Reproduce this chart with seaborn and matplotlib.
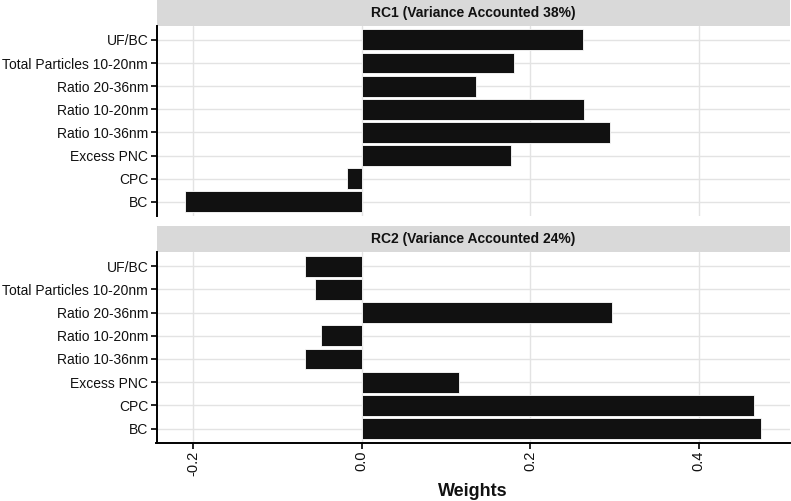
import matplotlib
matplotlib.use("Agg")
import matplotlib.pyplot as plt
import seaborn as sns
import pandas as pd

variables = ["UF/BC", "Total Particles 10-20nm", "Ratio 20-36nm", "Ratio 10-20nm",
             "Ratio 10-36nm", "Excess PNC", "CPC", "BC"]
rc1_weights = [0.263, 0.181, 0.136, 0.264, 0.295, 0.177, -0.017, -0.210]
rc2_weights = [-0.067, -0.056, 0.297, -0.048, -0.067, 0.115, 0.466, 0.474]
panel_titles = ["RC1 (Variance Accounted 38%)", "RC2 (Variance Accounted 24%)"]
x_ticks = [-0.2, 0.0, 0.2, 0.4]
x_tick_labels = ["-0.2", "0.0", "0.2", "0.4"]

sns.set_theme(style="white")
plt.rcParams["font.family"] = ["Liberation Sans", "DejaVu Sans"]

W, H = 791, 501
fig = plt.figure(figsize=(W / 100, H / 100), dpi=100)

def fr(left, top, right, bottom):
    return [left / W, 1 - bottom / H, (right - left) / W, (bottom - top) / H]

xlim = (-0.2436, 0.5085)

panels = [
    (rc1_weights, panel_titles[0], (0, 26), (26, 215.7), False),
    (rc2_weights, panel_titles[1], (226, 252.3), (252.3, 442.5), True),
]

for weights, title, (st, sb), (pt, pb), bottom in panels:
    # strip
    sax = fig.add_axes(fr(156.5, st, 790, sb))
    sax.set_facecolor("#d9d9d9")
    sax.set_xticks([]); sax.set_yticks([])
    for s in sax.spines.values():
        s.set_visible(False)
    sax.text(0.5, 0.5, title, ha="center", va="center", fontsize=10,
             fontweight="bold", color="#111111", transform=sax.transAxes)

    ax = fig.add_axes(fr(156.5, pt, 790, pb))
    df = pd.DataFrame({"variable": variables, "weight": weights})
    sns.barplot(data=df, x="weight", y="variable", order=variables, orient="h",
                color="#111111", saturation=1, width=0.9, edgecolor="white",
                linewidth=0.6, ax=ax, zorder=3)
    ax.set_xlim(*xlim)
    ax.set_ylim(7.6, -0.6)
    ax.set_xticks(x_ticks)
    ax.grid(True, color="#e3e3e3", linewidth=1.0, zorder=0)
    ax.set_axisbelow(True)
    for s in ["top", "right"]:
        ax.spines[s].set_visible(False)
    ax.spines["left"].set_color("black")
    ax.spines["left"].set_linewidth(1.4)
    ax.tick_params(axis="y", length=4, width=1.2, color="black", labelsize=10,
                   labelcolor="#111111", pad=2, left=True)
    ax.set_ylabel("")
    if bottom:
        ax.spines["bottom"].set_color("black")
        ax.spines["bottom"].set_linewidth(1.4)
        ax.set_xticklabels(x_tick_labels, rotation=90)
        ax.tick_params(axis="x", length=4, width=1.2, color="black", labelsize=10.5,
                       labelcolor="#111111", pad=2, bottom=True)
        ax.set_xlabel("Weights", fontsize=13, fontweight="bold", color="#111111",
                      labelpad=5)
    else:
        ax.spines["bottom"].set_visible(False)
        ax.set_xticklabels([])
        ax.tick_params(axis="x", length=0)
        ax.set_xlabel("")

fig.savefig("out.png", dpi=100)
